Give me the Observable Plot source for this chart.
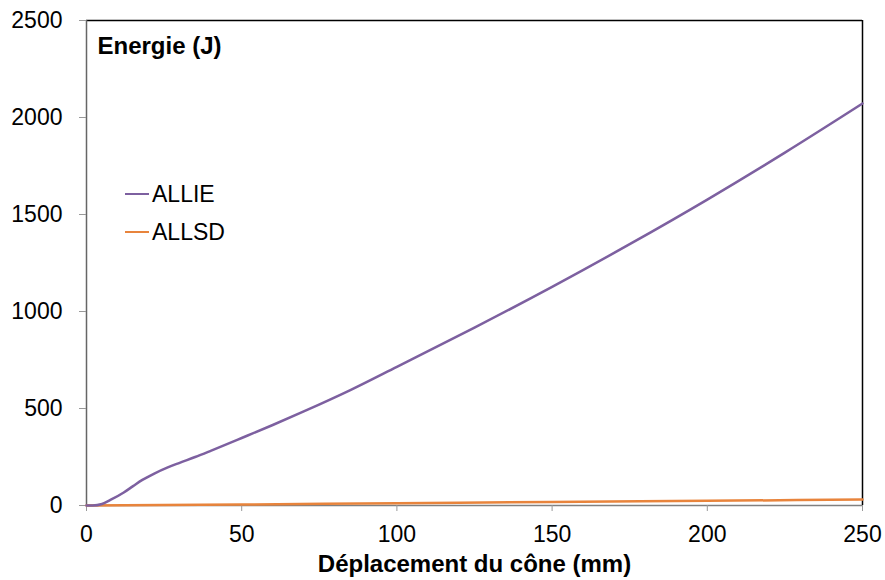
<!DOCTYPE html>
<html>
<head>
<meta charset="utf-8">
<script src="https://cdn.jsdelivr.net/npm/d3@7"></script>
<script src="https://cdn.jsdelivr.net/npm/@observablehq/plot@0.6"></script>
<style>
  html, body { margin: 0; padding: 0; background: #fff; }
  #wrap { position: relative; width: 885px; height: 580px; font-family: "Liberation Sans", Arial, sans-serif; }
  .leg { position: absolute; left: 125px; display: flex; align-items: center; font-size: 23px; color: #000; }
  .leg span.sw { display: inline-block; width: 24px; height: 2.5px; margin-right: 3px; }
</style>
</head>
<body>
<div id="wrap"></div>
<script>
const seriesNames = ["ALLIE", "ALLSD"];
const seriesColors = ["#7D60A0", "#E8843C"];

const allieX = [0, 2, 5, 8, 12, 15, 18, 22, 26, 30, 35, 40, 50, 60, 70, 85, 100, 125, 150, 175, 200, 225, 250];
const allieY = [0, 0, 8, 31, 67, 100, 132, 166, 195, 220, 250, 282, 348, 415, 485, 595, 715, 917, 1127, 1347, 1577, 1819, 2072];

const allsdX = [0, 50, 100, 150, 200, 250];
const allsdY = [0, 5, 12, 18, 24, 31];

const xTicks = [0, 50, 100, 150, 200, 250];
const yTicks = [0, 500, 1000, 1500, 2000, 2500];

const xLabel = "Déplacement du cône (mm)";
const yLabel = "Energie (J)";

const allie = allieX.map((x, i) => ({x, y: allieY[i]}));
const allsd = allsdX.map((x, i) => ({x, y: allsdY[i]}));

const chart = Plot.plot({
  width: 885,
  height: 580,
  marginLeft: 86,
  marginRight: 23,
  marginTop: 20,
  marginBottom: 75,
  style: { fontFamily: "'Liberation Sans', Arial, sans-serif", fontSize: "23px", color: "#000", background: "#fff" },
  x: { domain: [0, 250] },
  y: { domain: [0, 2500] },
  marks: [
    Plot.ruleY([2500], { stroke: "#000", strokeWidth: 1.5 }),
    Plot.ruleX([250], { stroke: "#000", strokeWidth: 1.5 }),
    Plot.ruleX([0], { stroke: "#666", strokeWidth: 1.5 }),
    Plot.ruleY([0], { stroke: "#808080", strokeWidth: 1.5 }),
    Plot.axisX({ ticks: xTicks, tickSize: 6, tickPadding: 14, stroke: "#999", label: null, tickFormat: d => String(d) }),
    Plot.axisY({ ticks: yTicks, tickSize: 7, tickPadding: 17, stroke: "#999", label: null, tickFormat: d => String(d) }),
    Plot.line(allsd, { x: "x", y: "y", stroke: seriesColors[1], strokeWidth: 2.5, curve: "monotone-x" }),
    Plot.line(allie, { x: "x", y: "y", stroke: seriesColors[0], strokeWidth: 2.5, curve: "monotone-x" }),
    Plot.text([yLabel], { text: d => d, frameAnchor: "top-left", dx: 11, dy: 26, textAnchor: "start", lineAnchor: "middle", fontWeight: "bold", fontSize: 24 }),
    Plot.text([xLabel], { text: d => d, frameAnchor: "bottom", dy: 59, lineAnchor: "middle", fontWeight: "bold", fontSize: 24 })
  ]
});
const wrap = document.getElementById("wrap");
wrap.appendChild(chart);

const legTops = [194, 232];
seriesNames.forEach((name, i) => {
  const d = document.createElement("div");
  d.className = "leg";
  d.style.top = (legTops[i] - 13) + "px";
  d.style.height = "26px";
  d.innerHTML = `<span class="sw" style="background:${seriesColors[i]}"></span><span>${name}</span>`;
  wrap.appendChild(d);
});
</script>
</body>
</html>
